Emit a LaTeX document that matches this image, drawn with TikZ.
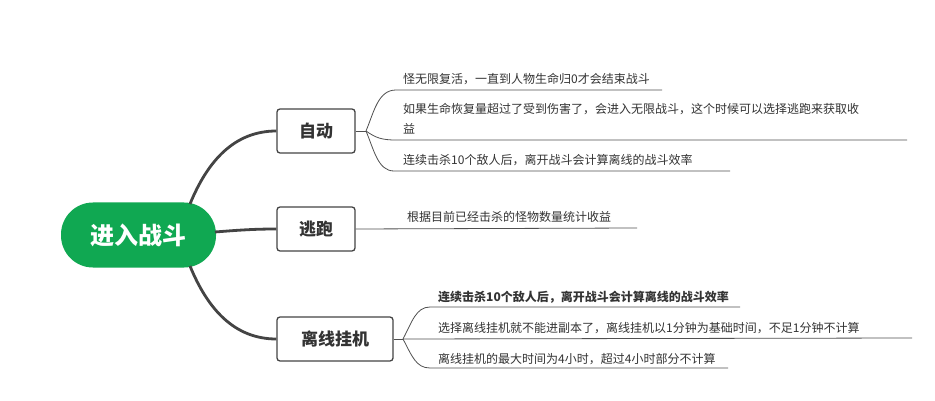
\documentclass[tikz,border=0pt]{standalone}
\usepackage{fontspec}
\setmainfont{Noto Sans CJK SC}
\definecolor{rootgreen}{RGB}{16,168,82}
\definecolor{branchgray}{RGB}{68,68,68}
\definecolor{leafgray}{RGB}{80,80,80}
\definecolor{textgray}{RGB}{51,51,51}
\begin{document}
\begin{tikzpicture}[x=1pt,y=-1pt,
  rootbox/.style={fill=rootgreen, rounded corners=32pt, minimum width=155pt, minimum height=65pt, inner sep=0pt, text=white, font=\fontsize{24}{24}\selectfont\bfseries},
  topicbox/.style={draw=branchgray, line width=1.3pt, fill=white, rounded corners=3pt, minimum height=44pt, inner sep=0pt, text=textgray, font=\fontsize{17}{17}\selectfont\bfseries},
  leaftext/.style={anchor=west, inner sep=0pt, text=textgray, font=\fontsize{12}{20}\selectfont, align=left},
  branch/.style={draw=branchgray, line width=2.8pt},
  leafline/.style={draw=leafgray, line width=0.8pt}]
\useasboundingbox (0,0) rectangle (935,401);
\fill[white] (0,0) rectangle (935,401);

% root and topics
\node[rootbox] (root) at (138.5,235) {进入战斗};
\node[topicbox, minimum width=78pt] (a) at (316,131) {自动};
\node[topicbox, minimum width=78pt] (b) at (316,229) {逃跑};
\node[topicbox, minimum width=116pt] (c) at (335,339) {离线挂机};

% main branches
\coordinate (ra) at (190,204);
\coordinate (rb) at (215,232);
\coordinate (rc) at (190,266);
\draw[branch] (ra) .. controls (208,160) and (235,131) .. (a.west);
\draw[branch] (rb) .. controls (240,230) and (255,229) .. (b.west);
\draw[branch] (rc) .. controls (208,310) and (235,339) .. (c.west);

% leaves of 自动
\coordinate (fa) at (366,131);
\coordinate (a1s) at (396,90);  \coordinate (a1e) at (662,90);
\coordinate (a2s) at (396,140); \coordinate (a2e) at (907,140);
\coordinate (a3s) at (394,171); \coordinate (a3e) at (730,171);
\draw[leafline] (a.east) -- (fa);
\draw[leafline] (fa) .. controls (374,112) and (378,90) .. (a1s) -- (a1e);
\draw[leafline] (fa) .. controls (376,138) and (382,140) .. (a2s) -- (a2e);
\draw[leafline] (fa) .. controls (374,150) and (378,171) .. (a3s) -- (a3e);
\node[leaftext] (a1) at (403,79) {怪无限复活，一直到人物生命归0才会结束战斗};
\node[leaftext] (a2) at (403,119) {如果生命恢复量超过了受到伤害了，会进入无限战斗，这个时候可以选择逃跑来获取收\\益};
\node[leaftext] (a3) at (403,160) {连续击杀10个敌人后，离开战斗会计算离线的战斗效率};

% leaf of 逃跑
\coordinate (b1e) at (637,228);
\draw[leafline] (b.east) -- (b1e);
\node[leaftext] (b1) at (407,217) {根据目前已经击杀的怪物数量统计收益};

% leaves of 离线挂机
\coordinate (fc) at (403,339);
\coordinate (c1s) at (430,307); \coordinate (c1e) at (740,307);
\coordinate (c2e) at (912,338);
\coordinate (c3s) at (430,368); \coordinate (c3e) at (728,368);
\draw[leafline] (c.east) -- (fc);
\draw[leafline] (fc) .. controls (412,322) and (416,307) .. (c1s) -- (c1e);
\draw[leafline] (fc) -- (c2e);
\draw[leafline] (fc) .. controls (412,356) and (416,368) .. (c3s) -- (c3e);
\node[leaftext, font=\fontsize{12}{20}\selectfont\bfseries] (c1) at (438,297) {连续击杀10个敌人后，离开战斗会计算离线的战斗效率};
\node[leaftext] (c2) at (438,328) {选择离线挂机就不能进副本了，离线挂机以1分钟为基础时间，不足1分钟不计算};
\node[leaftext] (c3) at (438,359) {离线挂机的最大时间为4小时，超过4小时部分不计算};
\end{tikzpicture}
\end{document}
